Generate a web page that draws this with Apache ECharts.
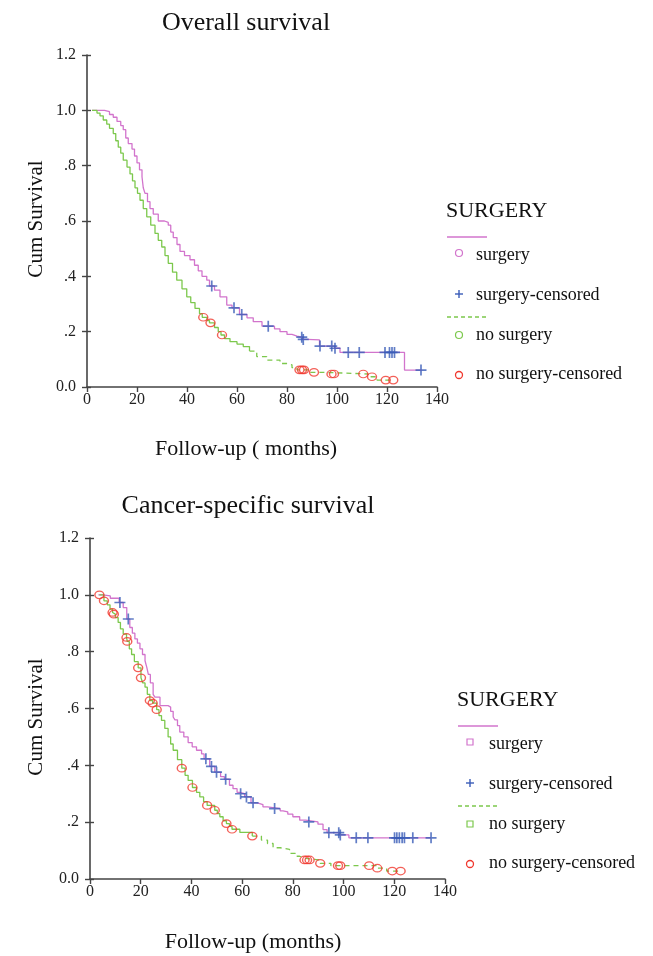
<!DOCTYPE html>
<html lang="en">
<head>
  <meta charset="UTF-8">
  <title>Survival curves</title>
  <script src="https://cdn.jsdelivr.net/npm/echarts@6/dist/echarts.min.js"></script>
  <style>
    html, body { margin: 0; padding: 0; background: #fff; }
  </style>
</head>
<body>
  <div id="app" style="width: 653px; height: 956px;"></div>
  <script>
    // ---- data (months, cumulative survival) ----
    var xTicks = [0, 20, 40, 60, 80, 100, 120, 140]
    var yTickLabels = ['0.0', '.2', '.4', '.6', '.8', '1.0', '1.2']

    // Overall survival
    var osSurgery = [
      [2, 1.0], [7, 0.995], [9, 0.985], [10.5, 0.975], [12, 0.96], [13.5, 0.945], [14.5, 0.93],
      [15.5, 0.9], [16.5, 0.88], [18, 0.86], [19, 0.835], [20, 0.81], [21, 0.785], [22, 0.76],
      [22.5, 0.72], [23.2, 0.70], [24.2, 0.67], [25.2, 0.645], [26.5, 0.625], [28.5, 0.60],
      [31, 0.595], [32.5, 0.585], [33.5, 0.56], [34.5, 0.54], [36, 0.515], [37.2, 0.49],
      [39, 0.475], [41.2, 0.46], [43, 0.44], [44.5, 0.42], [46, 0.40], [47.9, 0.386], [49, 0.365],
      [51, 0.35], [53.2, 0.326], [55.9, 0.296], [58, 0.286], [61, 0.262], [64, 0.25],
      [66.5, 0.236], [70, 0.22], [75, 0.21], [77.2, 0.20], [80, 0.19], [82, 0.184], [84, 0.18],
      [86.2, 0.172], [88, 0.17], [93, 0.148], [99, 0.14], [101.2, 0.125], [127, 0.061], [134, 0.061]
    ]
    var osSurgeryCens = [
      [49.9, 0.365], [58.8, 0.286], [61.9, 0.262], [72.5, 0.22], [85.9, 0.18], [86.5, 0.172],
      [93.2, 0.148], [97.9, 0.148], [99.2, 0.14], [104.5, 0.125], [108.9, 0.125], [119.2, 0.125],
      [121, 0.125], [122, 0.125], [123, 0.125], [133.6, 0.061]
    ]
    var osNoSurgery = [
      [2, 1.0], [4, 0.99], [5.2, 0.98], [6.5, 0.965], [7.9, 0.95], [9, 0.935], [10.5, 0.916],
      [11.5, 0.89], [12.5, 0.867], [13.5, 0.845], [14.5, 0.82], [16, 0.795], [17.2, 0.77],
      [18.2, 0.745], [19.2, 0.72], [20.2, 0.70], [21.2, 0.675], [22.5, 0.645], [23.9, 0.615],
      [25.5, 0.585], [27.2, 0.555], [28.5, 0.53], [29.9, 0.506], [31.2, 0.475], [32.5, 0.447],
      [34.2, 0.415], [35.9, 0.386], [38, 0.355], [39.9, 0.326], [41.5, 0.305], [43.2, 0.284],
      [45, 0.265], [46.1, 0.252], [48, 0.24], [49, 0.232], [51, 0.215], [52.5, 0.2], [53.6, 0.188],
      [55, 0.175], [57.2, 0.164], [60, 0.155], [62.5, 0.146], [65, 0.13], [67.9, 0.11],
      [71.9, 0.097], [77.2, 0.085], [79.9, 0.08], [82, 0.07], [84, 0.062], [89.5, 0.053],
      [95, 0.047], [112.5, 0.037], [116, 0.025], [122.5, 0.025]
    ]
    var osNoSurgeryCens = [
      [46.5, 0.252], [49.4, 0.232], [54, 0.188], [85, 0.062], [86, 0.062], [86.8, 0.062],
      [90.8, 0.053], [97.8, 0.047], [98.8, 0.047], [110.5, 0.047], [114, 0.037], [119.5, 0.025],
      [122.5, 0.025]
    ]

    // Cancer-specific survival
    var cssSurgery = [
      [3.3, 1.0], [5, 0.996], [8, 0.988], [11.5, 0.973], [13.1, 0.955], [14.5, 0.915],
      [15.7, 0.885], [16.7, 0.865], [17.7, 0.845], [18.7, 0.83], [19.7, 0.81], [20.7, 0.79],
      [21.7, 0.768], [22.4, 0.745], [23, 0.72], [23.8, 0.69], [24.9, 0.65], [25.6, 0.64],
      [27.6, 0.61], [30.8, 0.605], [31.8, 0.59], [32.8, 0.57], [33.5, 0.56], [34.5, 0.54],
      [35.4, 0.517], [37, 0.5], [38.7, 0.48], [40.3, 0.465], [42, 0.453], [44, 0.44], [45, 0.423],
      [47.2, 0.396], [49.2, 0.376], [51.5, 0.36], [53, 0.351], [55, 0.33], [56.4, 0.318],
      [58, 0.305], [59, 0.30], [61, 0.289], [63.5, 0.268], [66, 0.262], [68.2, 0.254],
      [70, 0.248], [75, 0.24], [76.1, 0.236], [78, 0.228], [80, 0.219], [82.7, 0.207],
      [85, 0.201], [89.9, 0.193], [91.9, 0.174], [93.5, 0.163], [98.4, 0.155], [102.1, 0.145],
      [134.5, 0.145]
    ]
    var cssSurgeryCens = [
      [11.8, 0.973], [15.1, 0.915], [45.7, 0.423], [47.9, 0.396], [49.9, 0.376], [53.5, 0.351],
      [59.4, 0.30], [61.7, 0.289], [64.3, 0.268], [72.8, 0.248], [86.3, 0.201], [94.2, 0.163],
      [98.1, 0.163], [98.7, 0.155], [105, 0.145], [109.6, 0.145], [120.1, 0.145], [121, 0.145],
      [122, 0.145], [123.1, 0.145], [124, 0.145], [127.3, 0.145], [134.5, 0.145]
    ]
    var cssNoSurgery = [
      [3.7, 1.0], [5.5, 0.979], [6.8, 0.965], [7.9, 0.95], [8.9, 0.938], [9.3, 0.932], [10, 0.92],
      [11.1, 0.903], [12, 0.88], [13.1, 0.862], [14.4, 0.85], [14.7, 0.836], [15.5, 0.81],
      [16.4, 0.79], [17.5, 0.765], [19, 0.743], [20.1, 0.708], [20.8, 0.69], [21.7, 0.675],
      [22.6, 0.65], [23.6, 0.628], [24.7, 0.619], [26.3, 0.596], [27.2, 0.575], [28.2, 0.558],
      [29.5, 0.53], [30.8, 0.50], [31.8, 0.475], [32.8, 0.453], [34.5, 0.42], [36.2, 0.39],
      [37.5, 0.365], [38.7, 0.347], [40.4, 0.322], [42, 0.305], [43.3, 0.289], [44.8, 0.272],
      [46.2, 0.259], [49.2, 0.242], [50.2, 0.23], [51.2, 0.219], [52.5, 0.205], [53.8, 0.195],
      [55, 0.185], [56, 0.175], [59.1, 0.164], [64, 0.151], [67.6, 0.137], [70, 0.125],
      [72.2, 0.11], [75, 0.104], [78.7, 0.09], [81, 0.08], [82.7, 0.073], [84.6, 0.067],
      [90.8, 0.055], [95, 0.047], [113.3, 0.038], [117, 0.028], [122.5, 0.028]
    ]
    var cssNoSurgeryCens = [
      [3.7, 1.0], [5.5, 0.979], [8.9, 0.938], [9.4, 0.932], [14.4, 0.85], [14.7, 0.836],
      [19, 0.743], [20.1, 0.708], [23.6, 0.628], [24.7, 0.619], [26.3, 0.596], [36.2, 0.39],
      [40.4, 0.322], [46.2, 0.259], [49.2, 0.242], [53.8, 0.195], [56, 0.175], [64, 0.151],
      [84.6, 0.067], [85.6, 0.067], [86.6, 0.067], [90.8, 0.055], [97.8, 0.047], [98.7, 0.047],
      [110.1, 0.047], [113.3, 0.038], [119.2, 0.028], [122.5, 0.028]
    ]

    // ---- styling ----
    var PINK = '#d274cc'
    var GREEN = '#7cc84c'
    var BLUE = '#3a5cb8'
    var RED = '#f0382e'
    var AXIS = '#444'
    var FONT = '"Liberation Serif", "Times New Roman", serif'
    var PLUS = 'path://M5,0L5,10M0,5L10,5'

    // green curve looks solid where steps are dense, dashed on the long tail
    function before(arr, t) { return arr.filter(function (p) { return p[0] <= t }) }
    function after(arr, t) {
      var i = arr.findIndex(function (p) { return p[0] > t })
      return arr.slice(Math.max(i - 1, 0))
    }

    var grids = [
      { left: 87, top: 55, width: 350, height: 332 },
      { left: 90, top: 538, width: 355, height: 341 }
    ]

    function xAxisFor(g) {
      return {
        type: 'value', gridIndex: g, min: 0, max: 140, interval: 20,
        splitLine: { show: false },
        axisLine: { onZero: false, lineStyle: { color: AXIS, width: 1.6 } },
        axisTick: { length: 5, lineStyle: { color: AXIS, width: 1.4 } },
        axisLabel: {
          margin: 5, color: '#222', fontFamily: FONT, fontSize: 16,
          customValues: xTicks
        }
      }
    }
    function yAxisFor(g, inside) {
      return {
        type: 'value', gridIndex: g, position: 'left', offset: 0,
        min: 0, max: 1.2, interval: 0.2,
        splitLine: { show: false },
        axisLine: { show: !inside, onZero: false, lineStyle: { color: AXIS, width: 1.6 } },
        axisTick: { inside: inside, length: inside ? 4 : 5, lineStyle: { color: AXIS, width: 1.4 } },
        axisLabel: {
          show: !inside, margin: 11, color: '#222', fontFamily: FONT, fontSize: 16,
          formatter: function (v) { return yTickLabels[Math.round(v / 0.2)] }
        }
      }
    }

    function curve(data, g, color, dashed) {
      return {
        type: 'line', xAxisIndex: g, yAxisIndex: g, data: data, step: 'end',
        symbol: 'none', silent: true, z: 2,
        lineStyle: { color: color, width: 1.3, type: dashed ? [5, 4] : 'solid' }
      }
    }
    function marks(data, g, kind) {
      var s = {
        type: 'scatter', xAxisIndex: g, yAxisIndex: g, data: data, silent: true, z: 3
      }
      if (kind === 'plus') {
        s.symbol = PLUS
        s.symbolSize = 11
        s.itemStyle = { color: 'none', borderColor: BLUE, borderWidth: 1.7 }
      } else {
        s.symbol = 'circle'
        s.symbolSize = [9, 7.5]
        s.itemStyle = { color: 'rgba(0,0,0,0)', borderColor: RED, borderWidth: 1.3 }
      }
      return s
    }

    function legend(x, y, square) {
      // x: left of the header, y: header centre
      var mx = x + 13
      var tx = x + (square ? 32 : 30)
      var txt = { fontFamily: FONT, fontSize: 18, fill: '#111' }
      function t(dy, s) {
        return { type: 'text', left: tx, top: y + dy - 11, style: Object.assign({ text: s }, txt) }
      }
      function marker(dy, color) {
        if (square) {
          return { type: 'rect', shape: { x: mx - 3, y: y + dy - 3, width: 6, height: 6 },
            style: { fill: 'none', stroke: color, lineWidth: 1.2 } }
        }
        return { type: 'circle', shape: { cx: mx, cy: y + dy, r: 3.5 },
          style: { fill: 'none', stroke: color, lineWidth: 1.2 } }
      }
      return [
        { type: 'text', left: x, top: y - 13,
          style: { text: 'SURGERY', fontFamily: FONT, fontSize: 22, fill: '#111' } },
        { type: 'line', shape: { x1: x + 1, y1: y + 24, x2: x + 41, y2: y + 24 },
          style: { stroke: PINK, lineWidth: 1.3 } },
        marker(40, PINK),
        t(44, 'surgery'),
        { type: 'line', shape: { x1: mx - 4, y1: y + 81, x2: mx + 4, y2: y + 81 },
          style: { stroke: BLUE, lineWidth: 1.4 } },
        { type: 'line', shape: { x1: mx, y1: y + 77, x2: mx, y2: y + 85 },
          style: { stroke: BLUE, lineWidth: 1.4 } },
        t(84, 'surgery-censored'),
        { type: 'line', shape: { x1: x + 1, y1: y + 104, x2: x + 41, y2: y + 104 },
          style: { stroke: GREEN, lineWidth: 1.3, lineDash: [4, 3] } },
        marker(122, GREEN),
        t(124, 'no surgery'),
        { type: 'circle', shape: { cx: mx, cy: y + 162, r: 3.5 },
          style: { fill: 'none', stroke: RED, lineWidth: 1.3 } },
        t(163, 'no surgery-censored')
      ]
    }

    function label(text, cx, cy, size, rotate) {
      return {
        type: 'text', x: cx, y: cy, rotation: rotate ? Math.PI / 2 : 0,
        style: {
          text: text, fontFamily: FONT, fontSize: size, fill: '#111',
          textAlign: 'center', textVerticalAlign: 'middle'
        }
      }
    }

    var graphics = [
      label('Overall survival', 246, 23, 26),
      label('Cum Survival', 36, 219, 21, true),
      label('Follow-up ( months)', 246, 449, 22),
      label('Cancer-specific survival', 248, 506, 26),
      label('Cum Survival', 36, 717, 21, true),
      label('Follow-up (months)', 253, 942, 22)
    ].concat(legend(446, 213, false), legend(457, 702, true))

    var app = document.querySelector('#app')
    var mCharts = echarts.init(app)
    var option = {
      animation: false,
      backgroundColor: '#fff',
      grid: grids,
      xAxis: [xAxisFor(0), xAxisFor(1)],
      yAxis: [yAxisFor(0, false), yAxisFor(1, false), yAxisFor(0, true), yAxisFor(1, true)],
      series: [
        curve(osSurgery, 0, PINK),
        curve(before(osNoSurgery, 66), 0, GREEN),
        curve(after(osNoSurgery, 66), 0, GREEN, true),
        marks(osSurgeryCens, 0, 'plus'),
        marks(osNoSurgeryCens, 0, 'circle'),
        curve(cssSurgery, 1, PINK),
        curve(before(cssNoSurgery, 66), 1, GREEN),
        curve(after(cssNoSurgery, 66), 1, GREEN, true),
        marks(cssSurgeryCens, 1, 'plus'),
        marks(cssNoSurgeryCens, 1, 'circle')
      ],
      graphic: graphics
    }
    mCharts.setOption(option)
  </script>
</body>
</html>
